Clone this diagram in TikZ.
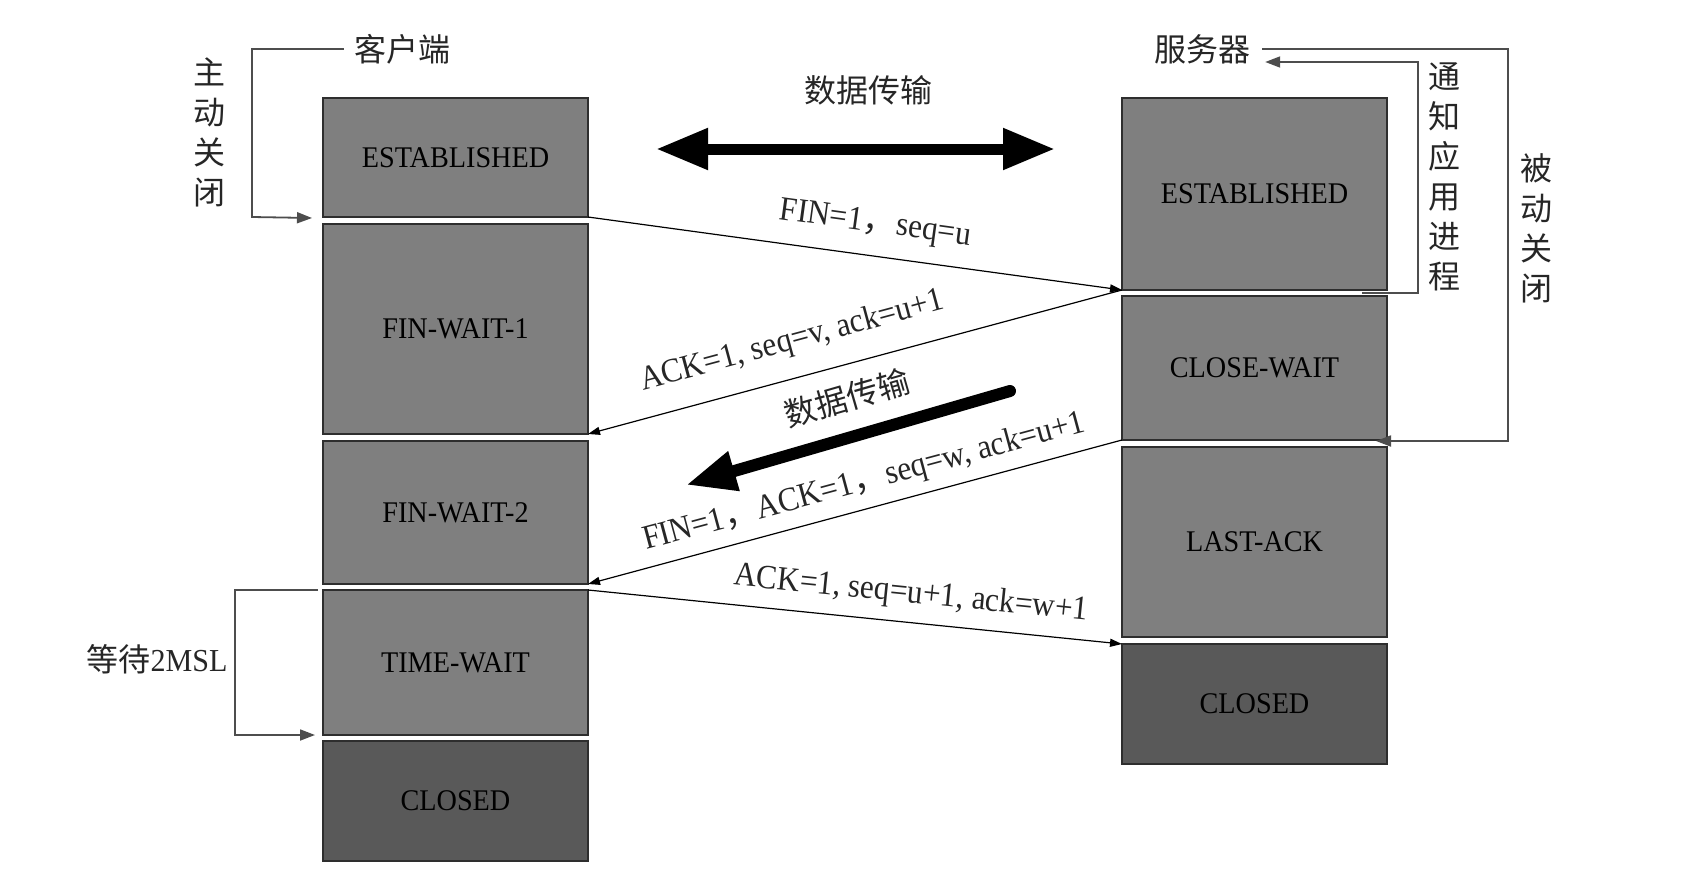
\documentclass[tikz,border=0pt]{standalone}
\usepackage{fontspec}
\setmainfont[FakeStretch=0.92]{Liberation Serif}
\newfontfamily\boxfont[FakeStretch=0.94]{Liberation Serif}
\newfontfamily\cjk{Noto Sans CJK SC}
\usetikzlibrary{arrows.meta}
\definecolor{stategray}{HTML}{7F7F7F}
\definecolor{closedgray}{HTML}{595959}
\definecolor{bordergray}{HTML}{2E2E2E}
\definecolor{bracketgray}{HTML}{4D4D4D}
\begin{document}
\begin{tikzpicture}[x=1pt,y=-1pt,
  state/.style={draw=bordergray, line width=1.4pt, fill=stategray, minimum width=265pt,
    inner sep=0pt, outer sep=0pt, font=\boxfont\fontsize{30}{36}\selectfont, text=black},
  closedstate/.style={state, fill=closedgray},
  cjklabel/.style={inner sep=0pt, font=\cjk\fontsize{32}{40}\selectfont, text=black!85},
  vlabel/.style={cjklabel, align=center},
  msg/.style={draw=black, line width=1.2pt, -{Triangle[length=12pt,width=8pt]}},
  msglabel/.style={sloped, inner sep=0pt, font=\fontsize{34}{40}\selectfont, text=black!85},
  bracket/.style={draw=bracketgray, line width=1.8pt, -{Triangle[length=15pt,width=11pt]}},
  bigarrow/.style={draw=black, fill=black, line width=11pt}
]
\useasboundingbox (0,0) rectangle (1702,878);

% client states
\node[state, minimum height=119pt] (cest) at (455.5,157.5) {ESTABLISHED};
\node[state, minimum height=210pt] (cfw1) at (455.5,329) {FIN-WAIT-1};
\node[state, minimum height=143pt] (cfw2) at (455.5,512.5) {FIN-WAIT-2};
\node[state, minimum height=145pt] (ctw) at (455.5,662.5) {TIME-WAIT};
\node[closedstate, minimum height=120pt] (ccl) at (455.5,801) {CLOSED};

% server states
\node[state, minimum height=192pt] (sest) at (1254.5,194) {ESTABLISHED};
\node[state, minimum height=144pt] (scw) at (1254.5,368) {CLOSE-WAIT};
\node[state, minimum height=190pt] (sla) at (1254.5,542) {LAST-ACK};
\node[closedstate, minimum height=120pt] (scl) at (1254.5,704) {CLOSED};

% titles and side labels
\node[cjklabel] (client) at (402,49) {客户端};
\node[cjklabel] (server) at (1202,49) {服务器};
\node[vlabel] (active) at (209,132.5) {主\\动\\关\\闭};
\node[vlabel] (notify) at (1444,176.5) {通\\知\\应\\用\\进\\程};
\node[vlabel] (passive) at (1536,228) {被\\动\\关\\闭};
\node[cjklabel] (wait) at (157,659) {等待{\boxfont\fontsize{32}{40}\selectfont 2MSL}};

% brackets
\draw[bracket] ([xshift=-10pt]client.west) -| ([xshift=-71pt]cest.south west)
  -- ([shift={(-11,1)}]cest.south west);
\coordinate (nstart) at ([shift={(-25,3)}]sest.south east);
\draw[bracket] (nstart) -- ++(56,0) |- ([shift={(15,13)}]server.east);
\coordinate (pcorner) at (1508,441);
\draw[bracket] ([xshift=12pt]server.east) -| (pcorner) -- ([shift={(-11,1)}]scw.south east);
\draw[bracket] ([xshift=-5pt]ctw.north west) -- ++(-83,0) |- ([xshift=-8pt]ctw.south west);

% data transfer arrows
\coordinate (d1) at (656,149);
\coordinate (d2) at (1055,149);
\draw[bigarrow, {Triangle[length=52pt,width=39pt]}-{Triangle[length=52pt,width=39pt]}] (d1) -- (d2);
\node[cjklabel] (dt1) at (868,90) {数据传输};
\coordinate (e1) at (1010,391);
\coordinate (e2) at (686,485);
\draw[bigarrow, line width=12pt, line cap=round, -{Triangle[length=50pt,width=38pt]}] (e1) --
  node[pos=0.47, sloped, above=18pt, cjklabel] (dt2) {数据传输} (e2);

% messages
\draw[msg] (cest.south east) --
  node[msglabel, pos=0.53, above=16pt] (m1) {FIN=1{\cjk ，}seq=u} (sest.south west);
\draw[msg] (sest.south west) --
  node[msglabel, pos=0.60, above=20pt] (m2) {ACK=1, seq=v, ack=u+1} (cfw1.south east);
\draw[msg] (scw.south west) --
  node[msglabel, pos=0.47, above=10pt] (m3) {FIN=1{\cjk ，}ACK=1{\cjk ，}seq=w, ack=u+1} (cfw2.south east);
\draw[msg] (ctw.north east) --
  node[msglabel, pos=0.60, above=12pt] (m4) {ACK=1, seq=u+1, ack=w+1} (scl.north west);
\end{tikzpicture}
\end{document}
